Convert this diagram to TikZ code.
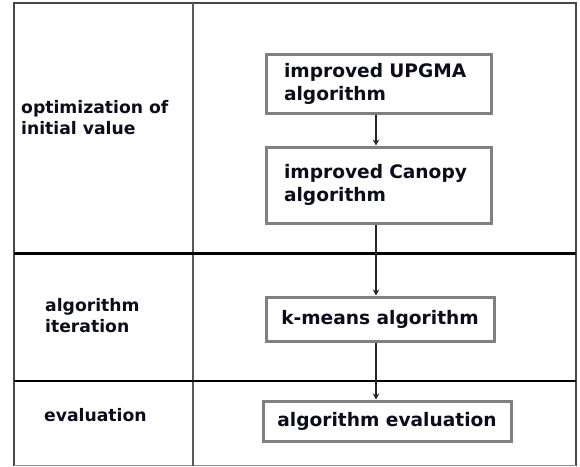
\documentclass[tikz,border=0pt]{standalone}
\usepackage{fontspec}
\setmainfont{DejaVu Sans}
\usetikzlibrary{arrows.meta}
\definecolor{boxgray}{HTML}{808080}
\definecolor{framegray}{HTML}{474747}
\definecolor{inkdark}{HTML}{0C0C1A}
\tikzset{
  stagebox/.style={draw=boxgray, line width=3pt, fill=white, inner xsep=0pt,
    inner ysep=0pt, font=\bfseries\fontsize{18.6}{23}\selectfont, text=inkdark},
  phaselabel/.style={anchor=west, align=left, inner sep=0pt, text=inkdark,
    font=\bfseries\fontsize{17.2}{21}\selectfont},
  flow/.style={draw=black!85, line width=1.4pt, -{Stealth[length=6pt,width=6.5pt]}},
}
\begin{document}
\begin{tikzpicture}[x=1pt,y=-1pt]
\useasboundingbox[fill=white] (0,0) rectangle (580,466);

% table grid
\draw[framegray, line width=2pt] (14,466) -- (14,3) -- (576,3) -- (576,466);
\draw[black!45, line width=1pt] (14,465.5) -- (576,465.5);
\draw[black!65, line width=2pt] (193,3) -- (193,466);
\draw[black, line width=3pt] (14,253) -- (576,253);
\draw[black, line width=2.5pt] (14,381) -- (576,381);

% phase labels in the left column
\node[phaselabel] (lopt) at (21,118) {optimization of\\initial value};
\node[phaselabel] (liter) at (45,316) {algorithm\\iteration};
\node[phaselabel] (leval) at (44,415) {evaluation};

% process boxes in the right column
\node[stagebox, minimum width=225pt, minimum height=59pt, text width=189pt, align=left]
  (upgma) at (378.5,83.5) {improved UPGMA\\algorithm};
\node[stagebox, minimum width=225pt, minimum height=76pt, text width=189pt, align=left]
  (canopy) at (378.5,185) {improved Canopy\\algorithm};
\node[stagebox, minimum width=228pt, minimum height=44pt]
  (kmeans) at (380,319) {k-means algorithm};
\node[stagebox, minimum width=248pt, minimum height=40pt]
  (evalbox) at (387,421) {algorithm evaluation};

% flow arrows along one vertical spine
\coordinate (spine) at (376,0);
\draw[flow] (upgma.south -| spine) -- (canopy.north -| spine);
\draw[flow] (canopy.south -| spine) -- (kmeans.north -| spine);
\draw[flow] (kmeans.south -| spine) -- (evalbox.north -| spine);
\end{tikzpicture}
\end{document}
